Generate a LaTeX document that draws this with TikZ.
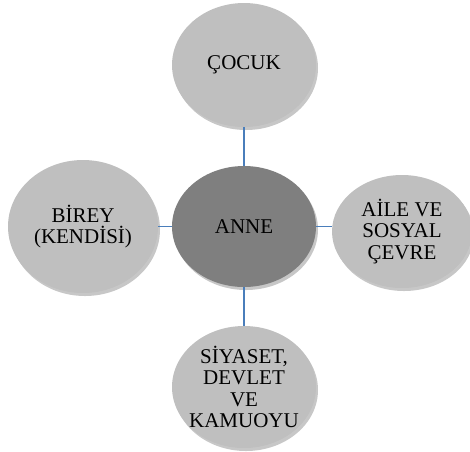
\documentclass[tikz,border=0pt]{standalone}
\usepackage{fontspec}
\setmainfont{Liberation Serif}
\usetikzlibrary{shapes.geometric,shadows}
\definecolor{outerfill}{HTML}{BFBFBF}
\definecolor{centerfill}{HTML}{7F7F7F}
\definecolor{linkblue}{HTML}{4A7EBB}
\begin{document}
\begin{tikzpicture}[x=1pt,y=-1pt,
  bubble/.style={ellipse,inner sep=-20pt,align=center,
    font=\fontsize{21}{21.5}\selectfont,
    drop shadow={shadow xshift=2pt,shadow yshift=-3pt,opacity=0.22,fill=black}},
  outer/.style={bubble,fill=outerfill},
  hub/.style={bubble,fill=centerfill},
  link/.style={draw=linkblue,line width=1.3pt}]
\useasboundingbox (0,0) rectangle (470,451);
\begin{scope}
\clip (0,0) rectangle (470,451);
\node[hub,minimum width=144pt,minimum height=121pt] (anne) at (244,226.5) {ANNE};
\node[outer,minimum width=144pt,minimum height=124pt] (cocuk) at (244,65) {ÇOCUK};
\node[outer,minimum width=150pt,minimum height=133pt] (birey) at (83,226.5) {BİREY\\(KENDİSİ)};
\node[outer,minimum width=140pt,minimum height=113pt] (aile) at (402,231.5) {AİLE VE\\SOSYAL\\ÇEVRE};
\node[outer,minimum width=144pt,minimum height=122pt] (siyaset) at (244,387) {SİYASET,\\DEVLET\\VE\\KAMUOYU};
\end{scope}
\draw[link] (cocuk.south) -- (anne.north);
\draw[link] (anne.south) -- (siyaset.north);
\draw[link] (birey.east) -- (anne.west);
\draw[link] (anne.east) -- (anne.east -| aile.west);
\end{tikzpicture}
\end{document}
